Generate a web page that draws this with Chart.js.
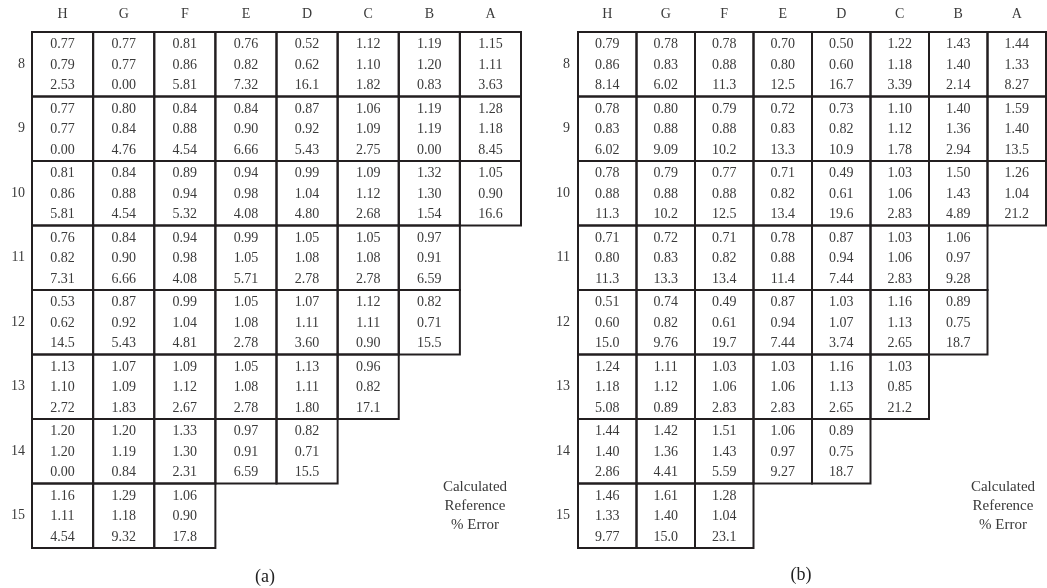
<!DOCTYPE html>
<html>
<head>
<meta charset="utf-8">
<script src="https://cdn.jsdelivr.net/npm/chart.js@4/dist/chart.umd.min.js"></script>
<style>
  html, body { margin: 0; padding: 0; background: #fff; }
  #wrap { position: relative; width: 1047px; height: 588px; overflow: hidden; font-family: "Liberation Serif", serif; color: #3a3a3a; }
  .panel { position: absolute; top: 0; height: 588px; }
  #pa { left: 0; width: 524px; }
  #pb { left: 524px; width: 523px; }
  .key { position: absolute; width: 120px; text-align: center; font-size: 15px; line-height: 19px; }
  .cap { position: absolute; width: 60px; text-align: center; font-size: 18px; line-height: 20px; color: #222; }
</style>
</head>
<body>
<div id="wrap">
  <div class="panel" id="pa"><canvas id="ca" width="524" height="588"></canvas></div>
  <div class="panel" id="pb"><canvas id="cb" width="523" height="588"></canvas></div>
  <div class="key" style="left:415px; top:477px;">Calculated<br>Reference<br>% Error</div>
  <div class="key" style="left:943px; top:477px;">Calculated<br>Reference<br>% Error</div>
  <div class="cap" style="left:235px; top:566px;">(a)</div>
  <div class="cap" style="left:771px; top:564px;">(b)</div>
</div>
<script>
// Assembly columns (left to right) and rows (top to bottom)
const columns = ['H', 'G', 'F', 'E', 'D', 'C', 'B', 'A'];
const rows = ['8', '9', '10', '11', '12', '13', '14', '15'];

// Panel (a): calculated power, reference power, % error per assembly
const calcA = [
  [0.77, 0.77, 0.81, 0.76, 0.52, 1.12, 1.19, 1.15],
  [0.77, 0.80, 0.84, 0.84, 0.87, 1.06, 1.19, 1.28],
  [0.81, 0.84, 0.89, 0.94, 0.99, 1.09, 1.32, 1.05],
  [0.76, 0.84, 0.94, 0.99, 1.05, 1.05, 0.97],
  [0.53, 0.87, 0.99, 1.05, 1.07, 1.12, 0.82],
  [1.13, 1.07, 1.09, 1.05, 1.13, 0.96],
  [1.20, 1.20, 1.33, 0.97, 0.82],
  [1.16, 1.29, 1.06]
];
const refA = [
  [0.79, 0.77, 0.86, 0.82, 0.62, 1.10, 1.20, 1.11],
  [0.77, 0.84, 0.88, 0.90, 0.92, 1.09, 1.19, 1.18],
  [0.86, 0.88, 0.94, 0.98, 1.04, 1.12, 1.30, 0.90],
  [0.82, 0.90, 0.98, 1.05, 1.08, 1.08, 0.91],
  [0.62, 0.92, 1.04, 1.08, 1.11, 1.11, 0.71],
  [1.10, 1.09, 1.12, 1.08, 1.11, 0.82],
  [1.20, 1.19, 1.30, 0.91, 0.71],
  [1.11, 1.18, 0.90]
];
const errA = [
  [2.53, 0.00, 5.81, 7.32, 16.1, 1.82, 0.83, 3.63],
  [0.00, 4.76, 4.54, 6.66, 5.43, 2.75, 0.00, 8.45],
  [5.81, 4.54, 5.32, 4.08, 4.80, 2.68, 1.54, 16.6],
  [7.31, 6.66, 4.08, 5.71, 2.78, 2.78, 6.59],
  [14.5, 5.43, 4.81, 2.78, 3.60, 0.90, 15.5],
  [2.72, 1.83, 2.67, 2.78, 1.80, 17.1],
  [0.00, 0.84, 2.31, 6.59, 15.5],
  [4.54, 9.32, 17.8]
];

// Panel (b)
const calcB = [
  [0.79, 0.78, 0.78, 0.70, 0.50, 1.22, 1.43, 1.44],
  [0.78, 0.80, 0.79, 0.72, 0.73, 1.10, 1.40, 1.59],
  [0.78, 0.79, 0.77, 0.71, 0.49, 1.03, 1.50, 1.26],
  [0.71, 0.72, 0.71, 0.78, 0.87, 1.03, 1.06],
  [0.51, 0.74, 0.49, 0.87, 1.03, 1.16, 0.89],
  [1.24, 1.11, 1.03, 1.03, 1.16, 1.03],
  [1.44, 1.42, 1.51, 1.06, 0.89],
  [1.46, 1.61, 1.28]
];
const refB = [
  [0.86, 0.83, 0.88, 0.80, 0.60, 1.18, 1.40, 1.33],
  [0.83, 0.88, 0.88, 0.83, 0.82, 1.12, 1.36, 1.40],
  [0.88, 0.88, 0.88, 0.82, 0.61, 1.06, 1.43, 1.04],
  [0.80, 0.83, 0.82, 0.88, 0.94, 1.06, 0.97],
  [0.60, 0.82, 0.61, 0.94, 1.07, 1.13, 0.75],
  [1.18, 1.12, 1.06, 1.06, 1.13, 0.85],
  [1.40, 1.36, 1.43, 0.97, 0.75],
  [1.33, 1.40, 1.04]
];
const errB = [
  [8.14, 6.02, 11.3, 12.5, 16.7, 3.39, 2.14, 8.27],
  [6.02, 9.09, 10.2, 13.3, 10.9, 1.78, 2.94, 13.5],
  [11.3, 10.2, 12.5, 13.4, 19.6, 2.83, 4.89, 21.2],
  [11.3, 13.3, 13.4, 11.4, 7.44, 2.83, 9.28],
  [15.0, 9.76, 19.7, 7.44, 3.74, 2.65, 18.7],
  [5.08, 0.89, 2.83, 2.83, 2.65, 21.2],
  [2.86, 4.41, 5.59, 9.27, 18.7],
  [9.77, 15.0, 23.1]
];

const FONT = 'Liberation Serif';
const TEXT = '#3a3a3a';
const LINE = '#231f20';

function fmt(v) { return v >= 10 ? v.toFixed(1) : v.toFixed(2); }

function cellPoints(calc, ref, err) {
  const pts = [];
  calc.forEach((row, r) => row.forEach((v, c) => {
    pts.push({ x: columns[c], y: rows[r], calc: v, ref: ref[r][c], err: err[r][c] });
  }));
  return pts;
}

// Draws each assembly as a boxed cell with its three values, placed by the category scales
const cellPlugin = {
  id: 'cells',
  afterDatasetsDraw(chart) {
    const ctx = chart.ctx;
    const xs = chart.scales.x, ys = chart.scales.y;
    const w = xs.width / columns.length;
    const h = ys.height / rows.length;
    const meta = chart.getDatasetMeta(0);
    const data = chart.data.datasets[0].data;
    ctx.save();
    ctx.lineWidth = 2;
    ctx.strokeStyle = LINE;
    meta.data.forEach((el, i) => {
      const cx = el.x, cy = el.y;
      ctx.strokeRect(cx - w / 2, cy - h / 2, w, h);
    });
    ctx.fillStyle = TEXT;
    ctx.font = '14px "' + FONT + '"';
    ctx.textAlign = 'center';
    ctx.textBaseline = 'middle';
    meta.data.forEach((el, i) => {
      const d = data[i];
      ctx.fillText(fmt(d.calc), el.x, el.y - 19.5);
      ctx.fillText(fmt(d.ref), el.x, el.y + 1);
      ctx.fillText(fmt(d.err), el.x, el.y + 21.5);
    });
    ctx.restore();
  }
};

function makeChart(id, calc, ref, err, yAxisWidth, yPad, rightPad) {
  return new Chart(document.getElementById(id), {
    type: 'scatter',
    data: {
      datasets: [{
        data: cellPoints(calc, ref, err),
        pointRadius: 0,
        pointHoverRadius: 0,
        showLine: false
      }]
    },
    options: {
      responsive: false,
      animation: false,
      devicePixelRatio: 1,
      events: [],
      layout: { padding: { left: 0, top: 0, right: rightPad, bottom: 40 } },
      plugins: { legend: { display: false }, tooltip: { enabled: false } },
      scales: {
        x: {
          type: 'category',
          labels: columns,
          position: 'top',
          offset: true,
          grid: { display: false, drawTicks: false },
          border: { display: false },
          ticks: { padding: 9, color: TEXT, font: { family: FONT, size: 14 }, maxRotation: 0, autoSkip: false },
          afterFit(s) { s.height = 32; }
        },
        y: {
          type: 'category',
          labels: rows,
          position: 'left',
          offset: true,
          grid: { display: false, drawTicks: false },
          border: { display: false },
          ticks: { padding: yPad, color: TEXT, font: { family: FONT, size: 14 }, autoSkip: false },
          afterFit(s) { s.width = yAxisWidth; }
        }
      }
    },
    plugins: [cellPlugin]
  });
}

makeChart('ca', calcA, refA, errA, 32, 7, 3);
makeChart('cb', calcB, refB, errB, 54, 8, 1);
</script>
</body>
</html>
